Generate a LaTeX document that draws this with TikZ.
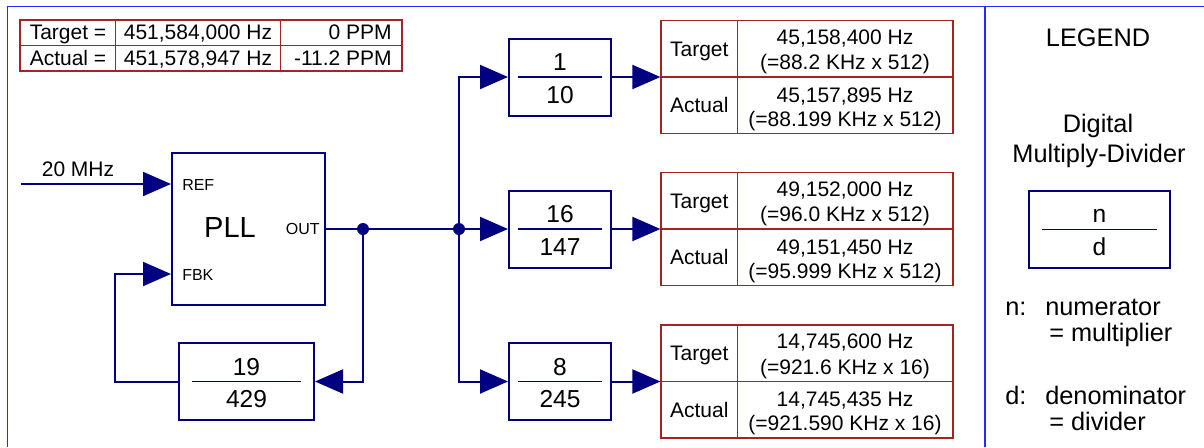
\documentclass[tikz,border=0pt]{standalone}
\usepackage{fontspec}
\setmainfont{Liberation Sans}
\usetikzlibrary{
  arrows.meta,  % Triangle arrow tips
  calc,         % coordinate calculations
  positioning   % relative placement
}

\definecolor{wirenavy}{RGB}{0,0,128}
\definecolor{panelblue}{RGB}{40,40,255}
\definecolor{tabred}{RGB}{165,35,35}

\tikzset{
  panelrule/.style={draw=panelblue, line width=0.9pt},
  wire/.style={draw=wirenavy, line width=1.5pt},
  sig/.style={wire, -{Triangle[length=21pt, width=18pt]}},
  joint/.style={circle, fill=wirenavy, inner sep=0pt, minimum size=9pt},
  divbox/.style={draw=wirenavy, line width=1.5pt, minimum width=76.5pt,
    minimum height=57.75pt, inner sep=0pt},
  fracbar/.style={draw=wirenavy, line width=0.9pt},
  fracnum/.style={font=\fontsize{18.4}{22}\selectfont, anchor=base, inner sep=0pt},
  tabrule/.style={draw=tabred, line width=0.9pt},
  txt/.style={font=\fontsize{15.75}{19}\selectfont, anchor=base, inner sep=0pt},
  pinlbl/.style={font=\fontsize{12}{14}\selectfont, inner sep=0pt},
  leg/.style={font=\fontsize{19}{23}\selectfont, anchor=base, inner sep=0pt},
}

% multiply-divider block: [options] name, x, y, numerator, denominator
\newcommand{\muldiv}[6][]{%
  \node[divbox, #1] (#2) at (#3,#4) {};
  \draw[fracbar] ($(#2.west)!0.1!(#2.east)$) -- ($(#2.west)!0.9!(#2.east)$);
  \node[fracnum] (#2-n) at ($(#2.center)+(0,-6.5)$) {#5};
  \node[fracnum] (#2-d) at ($(#2.center)+(0,26)$) {#6};
}

% frequency table: name, middle y, target (2 lines), actual (2 lines)
\newcommand{\freqtab}[6]{%
  \node[tabrule, minimum width=219pt, minimum height=84.75pt, inner sep=0pt]
    (#1) at (807,#2) {};
  \draw[tabrule] (#1.west) -- (#1.east);
  \draw[tabrule] ($(#1.north west)+(76.7,0)$) -- ($(#1.south west)+(76.7,0)$);
  \node[txt] at (699.3,{#2-20.8}) {Target};
  \node[txt] at (699.3,{#2+35.8}) {Actual};
  \node[txt] at (845,{#2-32.7}) {#3};
  \node[txt] at (845,{#2-7.4})  {#4};
  \node[txt] at (845,{#2+25})   {#5};
  \node[txt] at (845,{#2+49.3}) {#6};
}

\begin{document}
\begin{tikzpicture}[x=0.75pt, y=-0.75pt]
  \useasboundingbox (0,0) rectangle (1204,447);

  % === panel rules ===
  \draw[panelrule] (1204,6.5) -- (7.5,6.5) -- (7.5,447);
  \draw[panelrule] (985,6.5) -- (985,447);

  % === PLL frequency summary ===
  \node[tabrule, minimum width=286.5pt, minimum height=38.25pt, inner sep=0pt]
    (summary) at (211,45.5) {};
  \draw[tabrule] (summary.west) -- (summary.east);
  \draw[tabrule] (115.7,20) -- (115.7,71);
  \draw[tabrule] (280.7,20) -- (280.7,71);
  \node[txt] at (68,39.3) {Target =};
  \node[txt] at (68,65)   {Actual =};
  \node[txt] at (198,39.3) {451,584,000 Hz};
  \node[txt] at (198,65)   {451,578,947 Hz};
  \node[txt, anchor=base east] at (392,39.3) {0 PPM};
  \node[txt, anchor=base east] at (392,65)   {-11.2 PPM};

  % === PLL block ===
  \node[draw=wirenavy, line width=1.5pt, minimum width=114.75pt,
    minimum height=114pt] (pll) at (248.5,229) {};
  \node[font=\fontsize{21.75}{26}\selectfont, inner sep=0pt] (plltxt) at (230,228) {PLL};
  \node[pinlbl, anchor=west] (reflbl) at (182,185) {REF};
  \node[pinlbl, anchor=west] (fbklbl) at (182,275) {FBK};
  \node[pinlbl, anchor=east] (outlbl) at (320,229) {OUT};
  \coordinate (refin) at ($(pll.west)+(0,-45)$);
  \coordinate (fbkin) at ($(pll.west)+(0,45)$);

  % reference input
  \coordinate (src) at (21,184);
  \node[txt] (srclbl) at (78,176) {20 MHz};
  \draw[sig] (src) -- (refin);

  % === output bus ===
  \coordinate (j1) at (363,229);
  \coordinate (j2) at (459,229);
  \draw[wire] (pll.east) -- (j2);
  \node[joint] at (j1) {};
  \node[joint] at (j2) {};

  % === feedback divider ===
  \muldiv[minimum width=101.25pt]{fbdiv}{246.5}{381.5}{19}{429}
  \draw[sig] (j1) |- (fbdiv.east);
  \draw[sig] (fbdiv.west) -- ++(-63,0) |- (fbkin);

  % === output dividers ===
  \muldiv{divA}{560}{77}{1}{10}
  \muldiv{divB}{560}{229}{16}{147}
  \muldiv{divC}{560}{381.5}{8}{245}
  \draw[sig] (j2) |- (divA.west);
  \draw[sig] (j2) -- (divB.west);
  \draw[sig] (j2) |- (divC.west);

  \freqtab{tabA}{77}{45,158,400 Hz}{(=88.2 KHz x 512)}{45,157,895 Hz}{(=88.199 KHz x 512)}
  \freqtab{tabB}{229}{49,152,000 Hz}{(=96.0 KHz x 512)}{49,151,450 Hz}{(=95.999 KHz x 512)}
  \freqtab{tabC}{381.5}{14,745,600 Hz}{(=921.6 KHz x 16)}{14,745,435 Hz}{(=921.590 KHz x 16)}
  \draw[sig] (divA.east) -- (divA.east -| tabA.west);
  \draw[sig] (divB.east) -- (divB.east -| tabB.west);
  \draw[sig] (divC.east) -- (divC.east -| tabC.west);

  % === legend ===
  \node[leg] (legtitle) at (1098,46) {LEGEND};
  \node[leg] (legname1) at (1098,132.7) {Digital};
  \node[leg] (legname2) at (1099,162.7) {Multiply-Divider};
  \muldiv[minimum width=105.75pt]{legdiv}{1099.5}{229.3}{n}{d}
  \node[leg, anchor=base west] at (1005,315) {n:};
  \node[leg, anchor=base west] at (1045,315) {numerator};
  \node[leg, anchor=base west] at (1049,341) {= multiplier};
  \node[leg, anchor=base west] at (1005,404) {d:};
  \node[leg, anchor=base west] at (1045,404) {denominator};
  \node[leg, anchor=base west] at (1049,430) {= divider};
\end{tikzpicture}
\end{document}
